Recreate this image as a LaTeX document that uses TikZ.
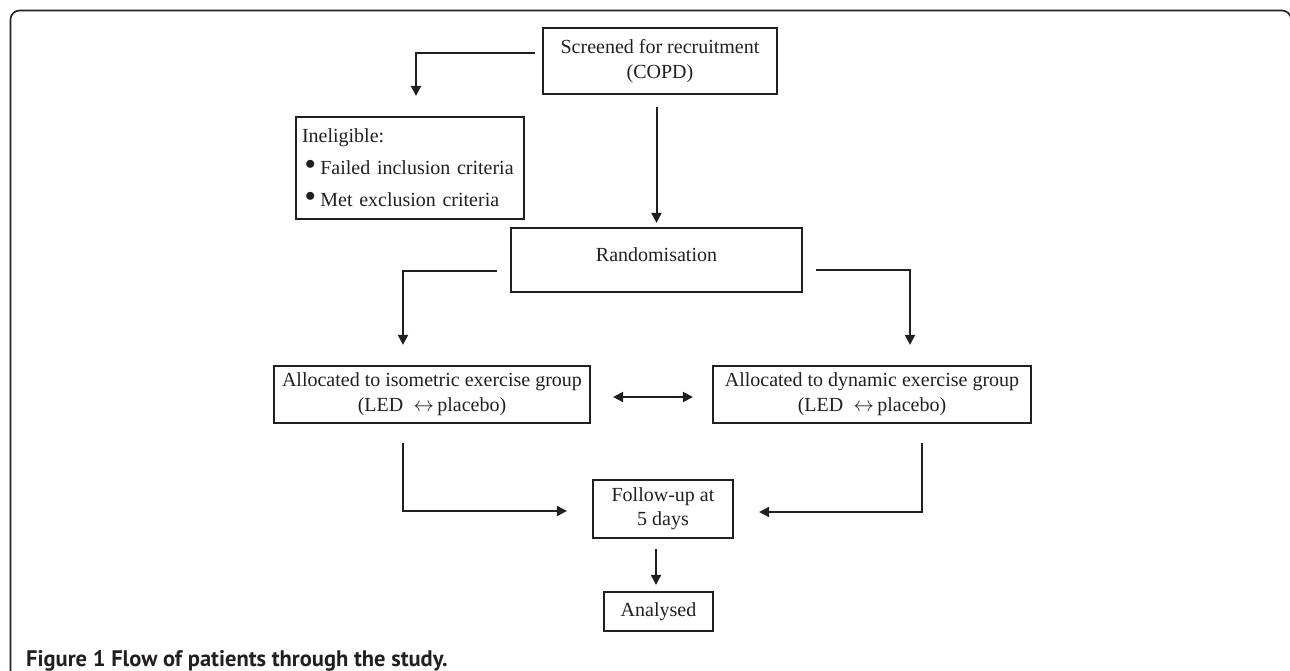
\documentclass[tikz,border=0pt]{standalone}
\usepackage{fontspec}
\setmainfont{Liberation Serif}
\newfontfamily\capfont{PT Sans}
\usetikzlibrary{arrows.meta}
\definecolor{ink}{HTML}{231F20}
\newcommand\blt{\hspace*{3pt}\raisebox{5pt}{$\bullet$}\hspace{5pt}}

\begin{document}
\begin{tikzpicture}[x=1pt, y=-1pt,
  box/.style={draw=ink, line width=2.2pt, text=ink, align=center, inner sep=0pt, font=\fontsize{20}{25}\selectfont},
  flow/.style={draw=ink, line width=2pt},
  >={Triangle[length=10pt,width=10pt]}]
\useasboundingbox (0,0) rectangle (1290,671);
\clip (0,0) rectangle (1290,671);
\draw[ink, line width=1.6pt, rounded corners=9pt] (10.5,10.5) rectangle (1291,700);

\node[box, minimum width=234pt, minimum height=66pt] (screen) at (660,61) {Screened for recruitment\\(COPD)};
\node[box, align=left, text width=216pt, inner xsep=6pt, minimum height=102pt, font=\fontsize{20}{32}\selectfont] (inel) at (410,168)
  {Ineligible:\\\blt Failed inclusion criteria\\\blt Met exclusion criteria};
\node[box, minimum width=291pt, minimum height=64pt, text height=14pt, text depth=12pt] (rand) at (656.5,260) {Randomisation};
\node[box, minimum width=316pt, minimum height=57pt] (iso) at (432,394.5) {Allocated to isometric exercise group\\(LED \ $\leftrightarrow$\,placebo)};
\node[box, minimum width=318pt, minimum height=57pt] (dyn) at (872,394.5) {Allocated to dynamic exercise group\\(LED \ $\leftrightarrow$\,placebo)};
\node[box, minimum width=140pt, minimum height=58pt, font=\fontsize{20}{24}\selectfont] (follow) at (663,509) {Follow-up at\\5 days};
\node[box, minimum width=109pt, minimum height=39pt] (anal) at (658.5,611.5) {Analysed};

\draw[flow, ->, shorten <=7pt, shorten >=20pt] ([yshift=8pt]screen.west) -| ([xshift=6pt]inel.north);
\draw[flow, ->, shorten <=12pt, shorten >=4pt] (rand.north |- screen.south) -- (rand.north);
\draw[flow, ->, shorten <=13pt, shorten >=20pt] ([yshift=-11pt]rand.west) -| ([xshift=-29pt]iso.north);
\draw[flow, ->, shorten <=13pt, shorten >=20pt] ([yshift=-10pt]rand.east) -| ([xshift=38pt]dyn.north);
\draw[flow, <->, shorten <=22pt, shorten >=19pt] ([yshift=-2.5pt]iso.east) -- ([yshift=-2.5pt]dyn.west);
\draw[flow, ->, shorten <=19pt, shorten >=25pt] ([xshift=-29pt]iso.south) |- ([yshift=-2pt]follow.west);
\draw[flow, ->, shorten <=19pt, shorten >=25pt] ([xshift=50pt]dyn.south) |- ([yshift=-3pt]follow.east);
\draw[flow, ->, shorten <=10pt, shorten >=6pt] ([xshift=-7pt]follow.south) -- ([xshift=-7pt]follow.south |- anal.north);

\node[anchor=base west, inner sep=0pt, text=ink, font=\capfont\bfseries\fontsize{22.5}{23}\selectfont] (cap) at (26,666) {Figure 1 Flow of patients through the study.};
\end{tikzpicture}
\end{document}
